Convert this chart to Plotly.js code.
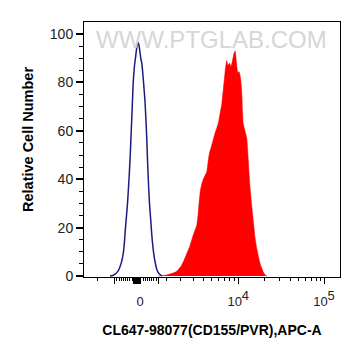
<!DOCTYPE html>
<html>
<head>
<meta charset="utf-8">
<script src="https://cdn.plot.ly/plotly-3.0.1.min.js"></script>
<style>
html,body{margin:0;padding:0;background:#fff;}
#chart{width:361px;height:357px;}
</style>
</head>
<body>
<div id="chart"></div>
<script>
// Display channel scale (biexponential display, channels 0-1024 across the axis)
var isoChannel = [104,120,136,148,158,166,174,180,185,189,193,197,202,207,212,217,222,227,231,235,239,244,248,251,254,258,262,267,272,278,284,292,300,312];
var isoCount   = [0,0.5,2,5,10,20,30,40,50,60,70,80,87,91,95,96.5,94,90,88,84,79,72,64,57,48,38,30,23,16,10,6,2.5,1,0];

var cd155Channel = [296,324,344,364,376,388,400,412,424,434,444,451,456,460,465,471,477,484,491,496,502,508,516,524,532,538,544,551,556,561,566,571,576,582,588,594,600,605,610,615,620,626,631,634,637,644,651,656,660,664,670,674,680,684,690,696,700,706,712,718,724,732];
var cd155Count   = [0,0.3,0.8,1.5,2.5,4,6.5,9.5,12.5,16,19,21,25,30,35,38,40,41.5,43,47,51,53,56,59,61.5,63.5,67,71,76,81,86,89,87,88,86.5,89,92,93,88,84,84.5,82,76,68,63,60,57,50,43,37,30,26,20,16,12,9,7,4.5,3,1.5,0.5,0];

// Axis ticks (channel positions) and labels
var xTickVals  = [224, 617, 960];
var xTickText  = ["0", "10<sup><span style='font-size:13px'>4</span></sup>", "10<sup><span style='font-size:13px'>5</span></sup>"];
var xMajorUnlabeled = [121, 297];
var xZeroBlock = [198,200,202,204,206,208,210,212,214,216,218,220,222,224,226];
var xMinorVals = [53,131.5,140.2,149,157.7,166.4,175.1,183.8,192.6,201.3,218.7,227.4,236.2,244.9,253.6,262.3,271,279.8,288.5,
                  330.8,384,437.2,477.2,510.8,537.2,560,581.2,600,
                  720.8,781.2,824,857.6,884.8,908,928,945.6];
var yTickVals = [0,20,40,60,80,100];

var fontFam = "Arial, 'Liberation Sans', sans-serif";

var traces = [
  {x: cd155Channel, y: cd155Count, type: 'scatter', mode: 'lines', fill: 'tozeroy',
   fillcolor: '#ff0000', line: {color: '#ff0000', width: 0.5, shape: 'spline', smoothing: 0.4},
   hoverinfo: 'skip', showlegend: false},
  {x: isoChannel, y: isoCount, type: 'scatter', mode: 'lines',
   line: {color: '#1c1c80', width: 1.5, shape: 'spline', smoothing: 0.8},
   hoverinfo: 'skip', showlegend: false},
  {x: [0], y: [0], xaxis: 'x2', yaxis: 'y', mode: 'markers', marker: {opacity: 0}, hoverinfo: 'skip', showlegend: false}
];

var layout = {
  width: 361, height: 357,
  margin: {l: 84, r: 21, t: 22, b: 80},
  paper_bgcolor: '#ffffff', plot_bgcolor: '#ffffff',
  font: {family: fontFam, size: 14, color: '#222'},
  xaxis: {
    range: [0, 1024], showgrid: false, zeroline: false,
    showline: true, linecolor: '#000', linewidth: 1, mirror: true,
    tickmode: 'array', tickvals: xTickVals, ticktext: xTickText,
    ticks: 'outside', ticklen: 6, tickwidth: 1, tickcolor: '#000',
    ticklabelstandoff: 6,
    tickfont: {family: fontFam, size: 13, color: '#222'},
    minor: {tickmode: 'array', tickvals: xMinorVals, ticks: 'outside', ticklen: 3, tickwidth: 1, tickcolor: '#000'},
    title: {text: 'CL647-98077(CD155/PVR),APC-A', standoff: 17,
            font: {family: fontFam, size: 14, color: '#000', weight: 'bold'}}
  },
  xaxis2: {
    overlaying: 'x', anchor: 'y', side: 'bottom', range: [0, 1024],
    showgrid: false, zeroline: false, showline: false, showticklabels: false,
    tickmode: 'array', tickvals: xMajorUnlabeled.concat(xZeroBlock),
    ticks: 'outside', ticklen: 6, tickwidth: 1, tickcolor: '#000'
  },
  yaxis: {
    range: [-0.413, 104.96], showgrid: false, zeroline: false,
    showline: true, linecolor: '#000', linewidth: 1, mirror: true,
    tickmode: 'array', tickvals: yTickVals,
    ticks: 'outside', ticklen: 7, tickwidth: 2, tickcolor: '#000',
    tickfont: {family: fontFam, size: 14, color: '#222'},
    minor: {dtick: 5, ticks: 'outside', ticklen: 4, tickwidth: 1, tickcolor: '#000'}
  },
  annotations: [
    {text: 'Relative Cell Number', xref: 'paper', yref: 'paper',
     x: (28 - 84) / 256, y: (277 - 140) / 255, textangle: -90, showarrow: false,
     xanchor: 'center', yanchor: 'middle',
     font: {family: fontFam, size: 14.5, color: '#000', weight: 'bold'}},
    {text: 'WWW.PTGLAB.COM', xref: 'paper', yref: 'paper',
     x: 0.499, y: 0.933, showarrow: false, xanchor: 'center', yanchor: 'middle',
     font: {family: fontFam, size: 24, color: '#d6d6d6'}}
  ]
};

Plotly.newPlot('chart', traces, layout, {displayModeBar: false, staticPlot: true});
</script>
</body>
</html>
